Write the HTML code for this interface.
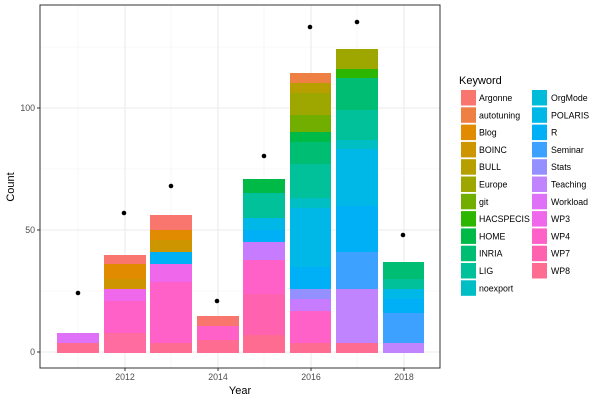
<!DOCTYPE html>
<html><head><meta charset="utf-8"><style>body{margin:0;background:#fff}svg{display:block;font-family:"Liberation Sans",sans-serif}</style></head><body>
<svg width="600" height="400" xmlns="http://www.w3.org/2000/svg">
<rect width="600" height="400" fill="#fff"/>
<g stroke="#f2f2f2" stroke-width="0.6">
<line x1="40" x2="440" y1="291" y2="291"/><line x1="40" x2="440" y1="169" y2="169"/><line x1="40" x2="440" y1="47" y2="47"/>
<line y1="5" y2="368" x1="78" x2="78"/><line y1="5" y2="368" x1="171" x2="171"/><line y1="5" y2="368" x1="264" x2="264"/><line y1="5" y2="368" x1="357" x2="357"/>
</g>
<g stroke="#ebebeb" stroke-width="1.1">
<line x1="40" x2="440" y1="352" y2="352"/><line x1="40" x2="440" y1="230" y2="230"/><line x1="40" x2="440" y1="108" y2="108"/>
<line y1="5" y2="368" x1="125" x2="125"/><line y1="5" y2="368" x1="218" x2="218"/><line y1="5" y2="368" x1="311" x2="311"/><line y1="5" y2="368" x1="404" x2="404"/>
</g>
<g shape-rendering="crispEdges">
<!-- 2011 -->
<rect x="57" y="333" width="42" height="10" fill="#DF70F8"/><rect x="57" y="343" width="42" height="10" fill="#FF6C91"/>
<!-- 2012 -->
<rect x="104" y="255" width="42" height="9" fill="#F8766D"/><rect x="104" y="264" width="42" height="15" fill="#E08B00"/><rect x="104" y="279" width="42" height="10" fill="#CD9600"/><rect x="104" y="289" width="42" height="12" fill="#EF67EB"/><rect x="104" y="301" width="42" height="32" fill="#FF61C9"/><rect x="104" y="333" width="42" height="20" fill="#FF6C9F"/>
<!-- 2013 -->
<rect x="150" y="215" width="42" height="15" fill="#F8766D"/><rect x="150" y="230" width="42" height="10" fill="#E08B00"/><rect x="150" y="240" width="42" height="12" fill="#CD9600"/><rect x="150" y="252" width="42" height="12" fill="#00B0F6"/><rect x="150" y="264" width="42" height="18" fill="#EF67EB"/><rect x="150" y="282" width="42" height="61" fill="#FF61C9"/><rect x="150" y="343" width="42" height="10" fill="#FF6C91"/>
<!-- 2014 -->
<rect x="197" y="316" width="42" height="10" fill="#F8766D"/><rect x="197" y="326" width="42" height="14" fill="#FF61C9"/><rect x="197" y="340" width="42" height="13" fill="#FF6C91"/>
<!-- 2015 -->
<rect x="243" y="179" width="42" height="14" fill="#00BA48"/><rect x="243" y="193" width="42" height="25" fill="#00C19A"/><rect x="243" y="218" width="42" height="12" fill="#00B8E7"/><rect x="243" y="230" width="42" height="12" fill="#00B0F6"/><rect x="243" y="242" width="42" height="18" fill="#C77CFF"/><rect x="243" y="260" width="42" height="34" fill="#FF61C9"/><rect x="243" y="294" width="42" height="41" fill="#FF63B0"/><rect x="243" y="335" width="42" height="18" fill="#FF6C91"/>
<!-- 2016 -->
<rect x="290" y="73" width="41" height="10" fill="#EE8043"/><rect x="290" y="83" width="41" height="10" fill="#B79F00"/><rect x="290" y="93" width="41" height="22" fill="#9EA700"/><rect x="290" y="115" width="41" height="17" fill="#72AE00"/><rect x="290" y="132" width="41" height="10" fill="#00BA48"/><rect x="290" y="142" width="41" height="22" fill="#00BD74"/><rect x="290" y="164" width="41" height="34" fill="#00C19A"/><rect x="290" y="198" width="41" height="10" fill="#00BFC4"/><rect x="290" y="208" width="41" height="59" fill="#00B8E7"/><rect x="290" y="267" width="41" height="22" fill="#00B0F6"/><rect x="290" y="289" width="41" height="10" fill="#9590FF"/><rect x="290" y="299" width="41" height="12" fill="#C77CFF"/><rect x="290" y="311" width="41" height="32" fill="#FF61C9"/><rect x="290" y="343" width="41" height="10" fill="#FF6C91"/>
<!-- 2017 -->
<rect x="336" y="49" width="42" height="20" fill="#9EA700"/><rect x="336" y="69" width="42" height="9" fill="#2DB600"/><rect x="336" y="78" width="42" height="32" fill="#00BD74"/><rect x="336" y="110" width="42" height="30" fill="#00C19A"/><rect x="336" y="140" width="42" height="9" fill="#00BFC4"/><rect x="336" y="149" width="42" height="57" fill="#00B8E7"/><rect x="336" y="206" width="42" height="46" fill="#00B0F6"/><rect x="336" y="252" width="42" height="37" fill="#3DA1FF"/><rect x="336" y="289" width="42" height="54" fill="#C084FF"/><rect x="336" y="343" width="42" height="10" fill="#FF6C91"/>
<!-- 2018 -->
<rect x="383" y="262" width="41" height="17" fill="#00BD74"/><rect x="383" y="279" width="41" height="10" fill="#00C19A"/><rect x="383" y="289" width="41" height="10" fill="#00B8E7"/><rect x="383" y="299" width="41" height="14" fill="#00B0F6"/><rect x="383" y="313" width="41" height="30" fill="#3DA1FF"/><rect x="383" y="343" width="41" height="10" fill="#C084FF"/>
</g>
<g fill="#000"><circle cx="78" cy="293" r="2.3"/><circle cx="124" cy="213" r="2.3"/><circle cx="171" cy="186" r="2.3"/><circle cx="217" cy="301" r="2.3"/><circle cx="264" cy="156" r="2.3"/><circle cx="310" cy="27" r="2.3"/><circle cx="357" cy="22" r="2.3"/><circle cx="403" cy="235" r="2.3"/></g>
<rect x="40" y="5" width="400" height="363" fill="none" stroke="#333" stroke-width="1"/>
<g stroke="#333"><line x1="37" x2="40" y1="352" y2="352"/><line x1="37" x2="40" y1="230" y2="230"/><line x1="37" x2="40" y1="108" y2="108"/>
<line y1="368" y2="371" x1="125" x2="125"/><line y1="368" y2="371" x1="218" x2="218"/><line y1="368" y2="371" x1="311" x2="311"/><line y1="368" y2="371" x1="404" x2="404"/></g>
<g font-size="8.8" fill="#4d4d4d" text-anchor="end"><text x="35" y="355">0</text><text x="35" y="233">50</text><text x="35" y="111">100</text></g>
<g font-size="8.8" fill="#4d4d4d" text-anchor="middle"><text x="125" y="380">2012</text><text x="218" y="380">2014</text><text x="311" y="380">2016</text><text x="404" y="380">2018</text></g>
<text x="240" y="394" font-size="11" text-anchor="middle">Year</text>
<text transform="translate(14,187) rotate(-90)" font-size="11" text-anchor="middle">Count</text>
<text x="459" y="84" font-size="11">Keyword</text>
<g font-size="8.8" fill="#000">
<rect x="461" y="90" width="15" height="15.5" fill="#F8766D"/><text x="479" y="101">Argonne</text>
<rect x="461" y="107.3" width="15" height="15.5" fill="#EE8043"/><text x="479" y="118.3">autotuning</text>
<rect x="461" y="124.6" width="15" height="15.5" fill="#E08B00"/><text x="479" y="135.6">Blog</text>
<rect x="461" y="141.9" width="15" height="15.5" fill="#CD9600"/><text x="479" y="152.9">BOINC</text>
<rect x="461" y="159.2" width="15" height="15.5" fill="#B79F00"/><text x="479" y="170.2">BULL</text>
<rect x="461" y="176.5" width="15" height="15.5" fill="#9EA700"/><text x="479" y="187.5">Europe</text>
<rect x="461" y="193.8" width="15" height="15.5" fill="#72AE00"/><text x="479" y="204.8">git</text>
<rect x="461" y="211.1" width="15" height="15.5" fill="#2DB600"/><text x="479" y="222.1">HACSPECIS</text>
<rect x="461" y="228.4" width="15" height="15.5" fill="#00BA48"/><text x="479" y="239.4">HOME</text>
<rect x="461" y="245.7" width="15" height="15.5" fill="#00BD74"/><text x="479" y="256.7">INRIA</text>
<rect x="461" y="263" width="15" height="15.5" fill="#00C19A"/><text x="479" y="274">LIG</text>
<rect x="461" y="280.3" width="15" height="15.5" fill="#00BFC4"/><text x="479" y="291.3">noexport</text>
<rect x="532" y="90" width="15" height="15.5" fill="#00BCD8"/><text x="551" y="101">OrgMode</text>
<rect x="532" y="107.3" width="15" height="15.5" fill="#00B8E7"/><text x="551" y="118.3">POLARIS</text>
<rect x="532" y="124.6" width="15" height="15.5" fill="#00B0F6"/><text x="551" y="135.6">R</text>
<rect x="532" y="141.9" width="15" height="15.5" fill="#3DA1FF"/><text x="551" y="152.9">Seminar</text>
<rect x="532" y="159.2" width="15" height="15.5" fill="#9590FF"/><text x="551" y="170.2">Stats</text>
<rect x="532" y="176.5" width="15" height="15.5" fill="#C084FF"/><text x="551" y="187.5">Teaching</text>
<rect x="532" y="193.8" width="15" height="15.5" fill="#DF70F8"/><text x="551" y="204.8">Workload</text>
<rect x="532" y="211.1" width="15" height="15.5" fill="#EF67EB"/><text x="551" y="222.1">WP3</text>
<rect x="532" y="228.4" width="15" height="15.5" fill="#FF61C9"/><text x="551" y="239.4">WP4</text>
<rect x="532" y="245.7" width="15" height="15.5" fill="#FF63B0"/><text x="551" y="256.7">WP7</text>
<rect x="532" y="263" width="15" height="15.5" fill="#FF6C91"/><text x="551" y="274">WP8</text>
</g>
</svg>
</body></html>
